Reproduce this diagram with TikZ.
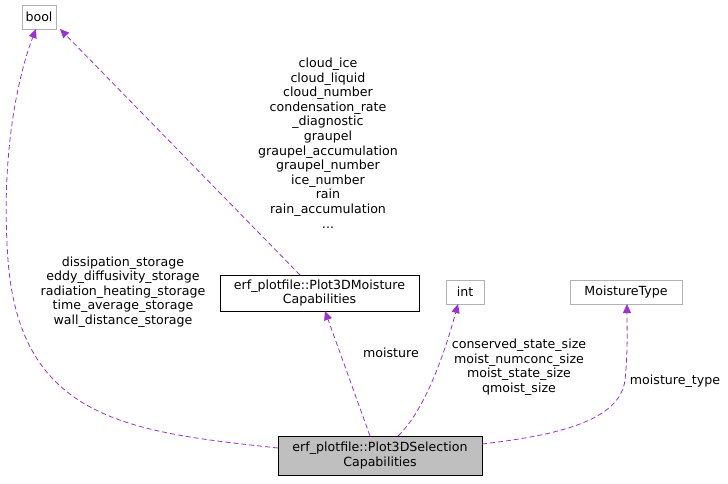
\documentclass[tikz,border=0pt]{standalone}
\usepackage{fontspec}
\setmainfont{DejaVu Sans}
\usetikzlibrary{arrows.meta}
\definecolor{edge}{HTML}{9A32CD}
\begin{document}
\begin{tikzpicture}[x=1pt,y=-1pt,
  every node/.style={font=\fontsize{12.6}{14.6}\selectfont, inner sep=0pt},
  gbox/.style={draw=gray!60, line width=0.8pt, minimum height=24, align=center},
  bbox/.style={draw=black, line width=0.8pt, align=center},
  lbl/.style={align=center},
  rel/.style={draw=edge, line width=0.8pt, dash pattern=on 5pt off 3pt, -{Triangle[open,fill=edge,length=9pt,width=8pt]}}]
\useasboundingbox (0,0) rectangle (728,483);
\node[gbox, minimum width=34] (bool) at (39,17) {bool};
\node[bbox, minimum width=199, minimum height=36] (moist) at (319.5,293) {erf\_plotfile::Plot3DMoisture\\Capabilities};
\node[gbox, minimum width=38] (int) at (465,292) {int};
\node[gbox, minimum width=112] (mt) at (626,292) {MoistureType};
\node[bbox, fill=gray!50, minimum width=204, minimum height=39] (sel) at (380,455.5) {erf\_plotfile::Plot3DSelection\\Capabilities};
\coordinate (s1) at (278,448);
\coordinate (s2) at (370,436);
\coordinate (s3) at (398,436);
\coordinate (s4) at (482,444);
\coordinate (b1) at (36,29);
\coordinate (b2) at (60,29);
\coordinate (m1) at (300,275);
\coordinate (m2) at (325,311);
\coordinate (i1) at (458,304);
\coordinate (t1) at (627,304);
\draw[rel] (s1) .. controls (130,432) and (20,420) .. (8,260) .. controls (0,150) and (20,70) .. (b1);
\draw[rel] (m1) -- (b2);
\draw[rel] (s2) -- (m2);
\draw[rel] (s3) .. controls (420,415) and (440,370) .. (i1);
\draw[rel] (s4) .. controls (560,435) and (620,420) .. (625,380) .. controls (628,350) and (627,330) .. (t1);
\node[lbl] (l1) at (123,292) {dissipation\_storage\\eddy\_diffusivity\_storage\\radiation\_heating\_storage\\time\_average\_storage\\wall\_distance\_storage};
\node[lbl] (l2) at (328,143) {cloud\_ice\\cloud\_liquid\\cloud\_number\\condensation\_rate\\\_diagnostic\\graupel\\graupel\_accumulation\\graupel\_number\\ice\_number\\rain\\rain\_accumulation\\...};
\node[lbl] (l3) at (391,353) {moisture};
\node[lbl] (l4) at (519,367) {conserved\_state\_size\\moist\_numconc\_size\\moist\_state\_size\\qmoist\_size};
\node[lbl] (l5) at (675,381) {moisture\_type};
\end{tikzpicture}
\end{document}
